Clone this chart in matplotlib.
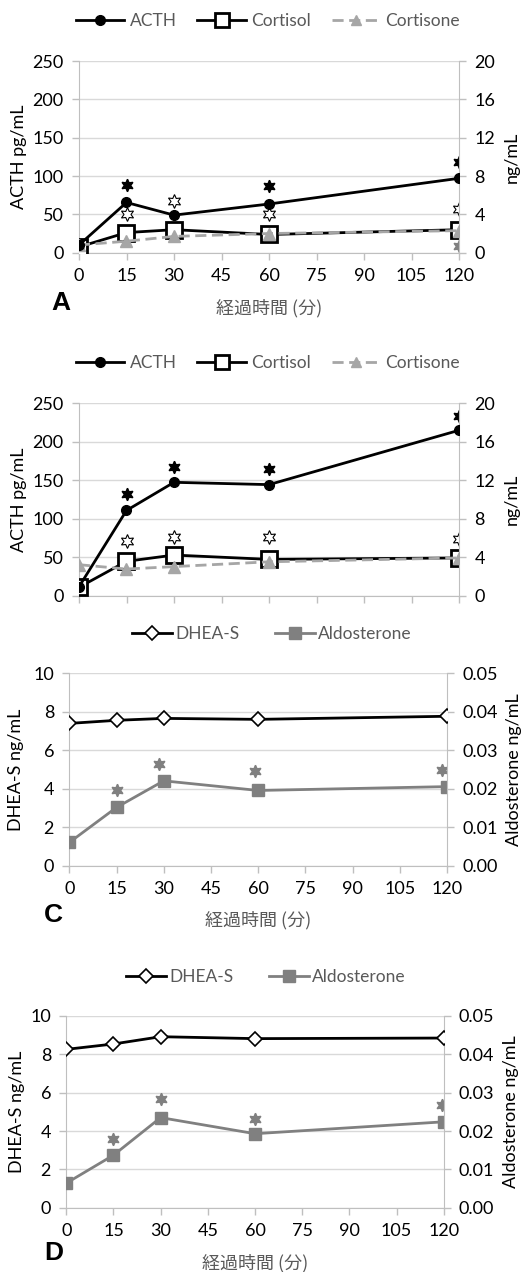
import matplotlib
matplotlib.use("Agg")
import matplotlib.pyplot as plt
from matplotlib.lines import Line2D

plt.rcParams['font.family'] = ['Lato', 'Noto Sans CJK JP', 'DejaVu Sans']

# ---------------- data ----------------
time_min = [0, 15, 30, 60, 120]
xticks = [0, 15, 30, 45, 60, 75, 90, 105, 120]

# Panel A
acth_A = [10, 65.5, 49, 63.5, 97]
cortisol_A = [0.6, 2.1, 2.4, 1.9, 2.4]
cortisone_A = [0.8, 1.2, 1.7, 2.0, 2.3]
star_filled_A_x = [15, 60, 120]
star_filled_A_y = [88, 87, 118]
star_open_A_x = [15, 30, 60, 120]
star_open_A_y = [51, 68, 51, 56.5]
star_gray_A_x = [120]
star_gray_A_y = [9]

# Panel B
acth_B = [12, 111, 147.5, 144.5, 215]
cortisol_B = [0.9, 3.6, 4.25, 3.8, 3.95]
cortisone_B = [3.25, 2.8, 3.05, 3.55, 3.95]
star_filled_B_x = [15, 30, 60, 120]
star_filled_B_y = [132, 168, 165, 233]
star_open_B_x = [15, 30, 60, 120]
star_open_B_y = [71, 77, 77, 74]

# Panel C
dheas_C = [7.40, 7.56, 7.66, 7.61, 7.77]
aldo_C = [0.0061, 0.0152, 0.0221, 0.0196, 0.0206]
star_C_x = [15, 28.5, 59, 118.5]
star_C_y = [3.94, 5.29, 4.93, 5.0]

# Panel D
dheas_D = [8.26, 8.54, 8.92, 8.82, 8.85]
aldo_D = [0.0064, 0.0137, 0.0235, 0.0193, 0.0224]
star_D_x = [15, 30, 60, 119.5]
star_D_y = [3.57, 5.67, 4.64, 5.34]

# ---------------- style ----------------
W, H = 531, 1272
fig = plt.figure(figsize=(W / 100, H / 100), dpi=100)

GRID = '#d9d9d9'
AXC = '#bfbfbf'
TXT = '#595959'
GRAY_LINE = '#a6a6a6'
ALDO = '#808080'
FS = 13
LFS = 12.5
STAR = (6, 1, 0)


def px_axes(l, r, t, b):
    return fig.add_axes([l / W, 1 - b / H, (r - l) / W, (b - t) / H])


def style(ax, ax2, ylim, yticks, ylim2, yticks2, fmt2):
    ax.set_xlim(0, 120)
    ax.set_ylim(*ylim)
    ax.set_yticks(yticks)
    ax2.set_ylim(*ylim2)
    ax2.set_yticks(yticks2)
    ax2.set_yticklabels([fmt2.format(v) for v in yticks2])
    ax.set_xticks(xticks)
    ax.set_xticklabels([str(v) for v in xticks])
    for a in (ax, ax2):
        for s in a.spines.values():
            s.set_visible(False)
        a.tick_params(colors=AXC, labelcolor='black', labelsize=FS, width=1,
                      length=5, direction='out')
    ax.tick_params(axis='y', pad=6)
    ax2.tick_params(axis='y', pad=6)
    ax.tick_params(axis='x', pad=6)
    ax.spines['bottom'].set_visible(True)
    ax.spines['bottom'].set_color(AXC)
    ax.spines['left'].set_visible(True)
    ax.spines['left'].set_color(AXC)
    ax2.spines['right'].set_visible(True)
    ax2.spines['right'].set_color(AXC)
    ax.grid(axis='y', color=GRID, linewidth=1)
    ax.set_axisbelow(True)
    ax2.set_zorder(ax.zorder + 1)
    ax.patch.set_visible(False)


def panel_label(ax, letter, x, y, xlab_y=None):
    fig.text(x / W, 1 - y / H, letter, fontsize=19, fontweight='bold',
             ha='left', va='center', family=['Liberation Sans', 'DejaVu Sans'])
    if xlab_y is not None:
        fig.text(ax.get_position().x0 + ax.get_position().width / 2, 1 - xlab_y / H,
                 '経過時間 (分)', fontsize=FS, color=TXT, ha='center', va='center',
                 family=['Noto Sans CJK JP', 'DejaVu Sans'])


def acth_to_right(v):
    return [x * 20 / 250 for x in v]


def acth_panel(ax, acth, cortisol, cortisone, sfx, sfy, sox, soy, sgx=None, sgy=None):
    ax2 = ax.twinx()
    ax2.plot(time_min, cortisone, color=GRAY_LINE, lw=2, ls=(0, (4, 2)),
             marker='^', ms=8, mfc=GRAY_LINE, mec=GRAY_LINE, zorder=3)
    ax2.plot(time_min, cortisol, color='black', lw=2, marker='s', ms=12,
             mfc='white', mec='black', mew=2, zorder=2)
    ax2.plot(time_min, acth_to_right(acth), color='black', lw=2, marker='o',
             ms=7, mfc='black', mec='black', zorder=4)
    ax.plot(sfx, sfy, ls='none', marker=STAR, ms=9, color='black', mec='black')
    ax.plot(sox, soy, ls='none', marker=STAR, ms=10, mfc='white', mec='black', mew=0.8)
    if sgx is not None:
        ax.plot(sgx, sgy, ls='none', marker=STAR, ms=9, color=ALDO, mec=ALDO)
    style(ax, ax2, (0, 250), [0, 50, 100, 150, 200, 250], (0, 20),
          [0, 4, 8, 12, 16, 20], '{:g}')
    ax.set_ylabel('ACTH pg/mL', fontsize=FS, labelpad=4)
    ax2.set_ylabel('ng/mL', fontsize=FS, labelpad=6)
    return ax2


def acth_legend(y):
    handles = [
        Line2D([], [], color='black', lw=2, marker='o', ms=7),
        Line2D([], [], color='black', lw=2, marker='s', ms=10, mfc='white', mew=2),
        Line2D([], [], color=GRAY_LINE, lw=2, ls=(0, (4, 2)), marker='^', ms=7),
    ]
    fig.legend(handles, ['ACTH', 'Cortisol', 'Cortisone'], ncol=3,
               loc='center', bbox_to_anchor=(268 / W, 1 - y / H), frameon=False,
               fontsize=LFS, handlelength=2.8, columnspacing=1.2,
               handletextpad=0.3, labelcolor=TXT)


def dhea_panel(ax, dheas, aldo, sx, sy, lpad):
    ax2 = ax.twinx()
    ax2.plot(time_min, aldo, color=ALDO, lw=2, marker='s', ms=8, mfc=ALDO,
             mec=ALDO, zorder=2)
    ax2.plot(time_min, [v * 0.05 / 10 for v in dheas], color='black', lw=2,
             marker='D', ms=7, mfc='white', mec='black', mew=1.2, zorder=3)
    ax.plot(sx, sy, ls='none', marker=STAR, ms=9, color=ALDO, mec=ALDO)
    style(ax, ax2, (0, 10), [0, 2, 4, 6, 8, 10], (0, 0.05),
          [0, 0.01, 0.02, 0.03, 0.04, 0.05], '{:.2f}')
    ax.set_ylabel('DHEA-S ng/mL', fontsize=FS, labelpad=lpad)
    ax2.set_ylabel('Aldosterone ng/mL', fontsize=FS, labelpad=6)
    return ax2


def dhea_legend(cx, y):
    handles = [
        Line2D([], [], color='black', lw=2, marker='D', ms=7, mfc='white', mew=1.2),
        Line2D([], [], color=ALDO, lw=2, marker='s', ms=8),
    ]
    fig.legend(handles, ['DHEA-S', 'Aldosterone'], ncol=2, loc='center',
               bbox_to_anchor=(cx / W, 1 - y / H), frameon=False, fontsize=LFS,
               handlelength=2.3, columnspacing=2.0, handletextpad=0.2,
               labelcolor=TXT)


# Panel A
axA = px_axes(79, 459, 61, 252.7)
acth_panel(axA, acth_A, cortisol_A, cortisone_A, star_filled_A_x, star_filled_A_y,
           star_open_A_x, star_open_A_y, star_gray_A_x, star_gray_A_y)
acth_legend(21)
panel_label(axA, 'A', 51, 303, 308)

# Panel B (cropped in the source: no x tick labels)
axB = px_axes(79, 459, 403.3, 596)
acth_panel(axB, acth_B, cortisol_B, cortisone_B, star_filled_B_x, star_filled_B_y,
           star_open_B_x, star_open_B_y)
axB.set_xticklabels([])
acth_legend(363)

# Panel C
axC = px_axes(69.3, 447, 673.3, 866)
dhea_panel(axC, dheas_C, aldo_C, star_C_x, star_C_y, 7)
dhea_legend(272, 634)
panel_label(axC, 'C', 44, 915, 920)

# Panel D
axD = px_axes(66.3, 443.7, 1016, 1207.7)
dhea_panel(axD, dheas_D, aldo_D, star_D_x, star_D_y, 4)
dhea_legend(266, 977)
panel_label(axD, 'D', 44, 1253, 1263)

fig.savefig('out.png', dpi=100)
